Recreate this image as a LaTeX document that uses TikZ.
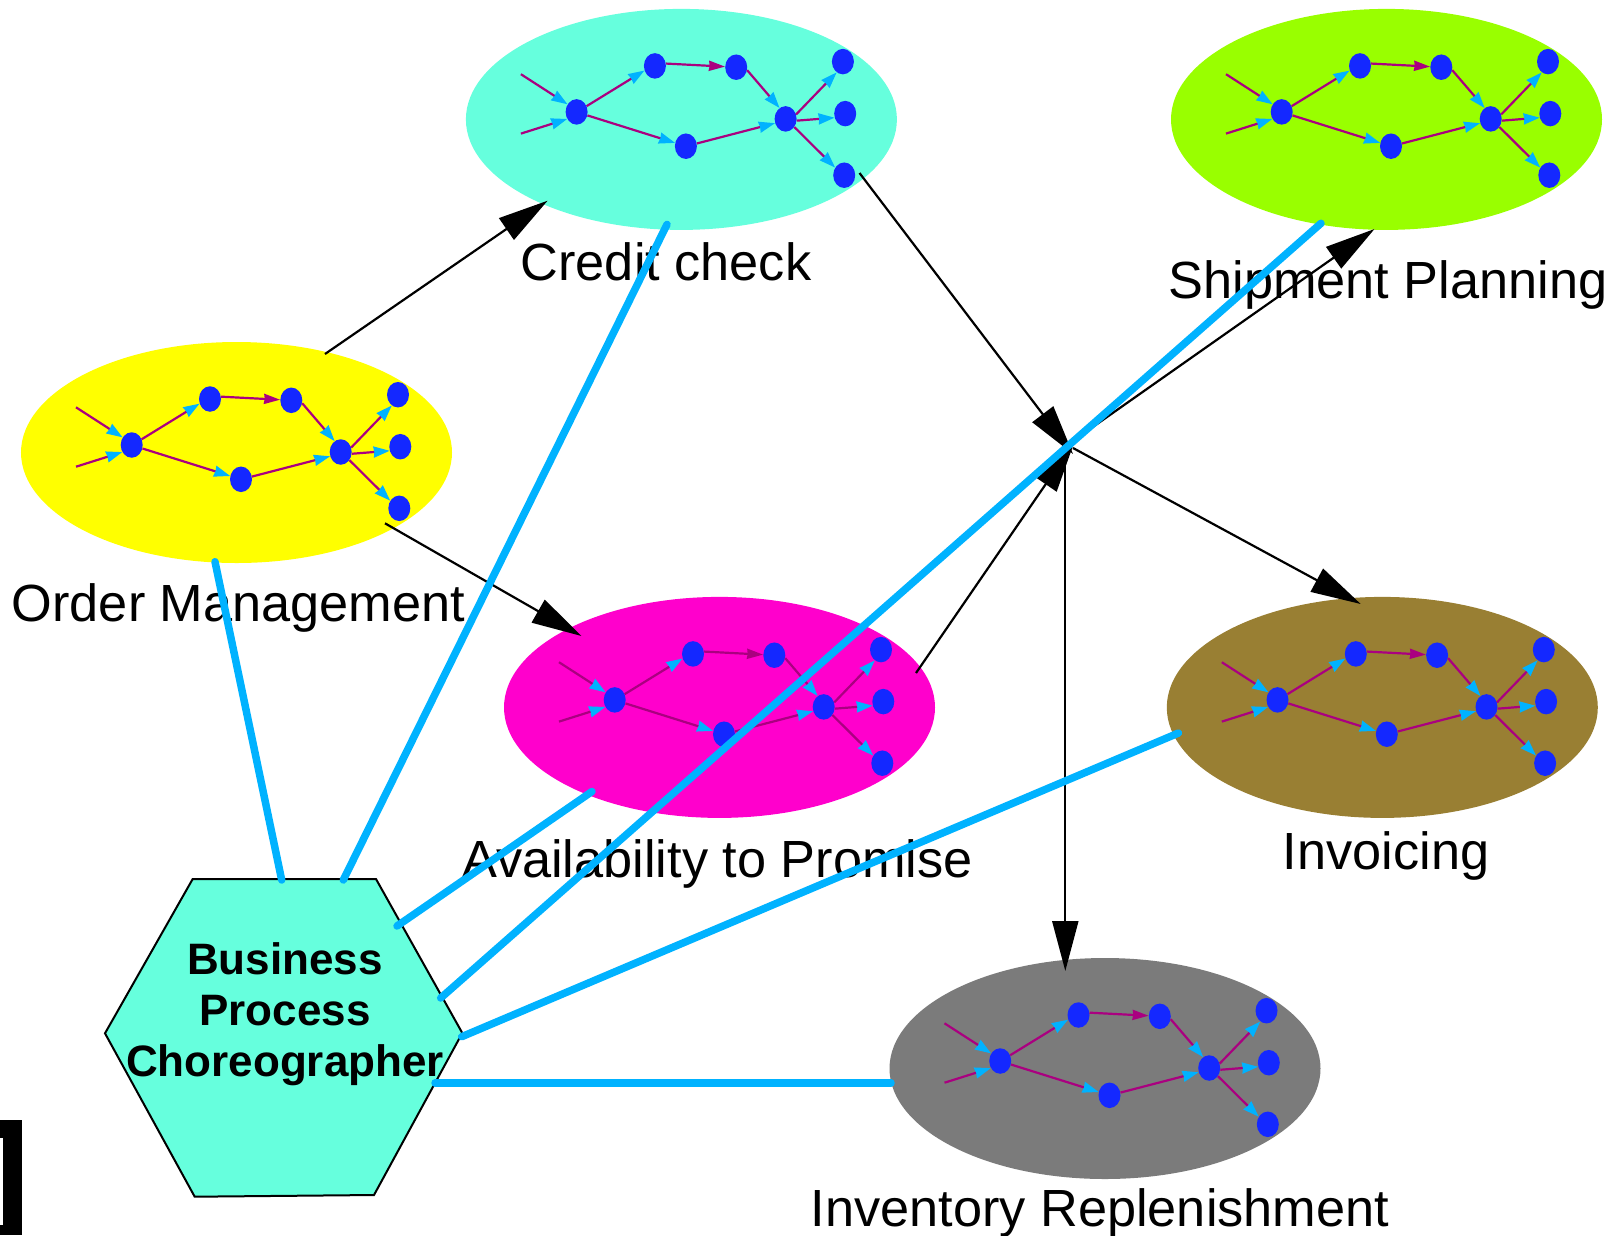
\documentclass[tikz,border=0pt]{standalone}
\usepackage{fontspec}
\setmainfont{Liberation Sans}
\usetikzlibrary{shapes.geometric,arrows.meta}
\definecolor{turq}{HTML}{66FFDD}
\definecolor{lime}{HTML}{99FF00}
\definecolor{sun}{HTML}{FFFF00}
\definecolor{magen}{HTML}{FF00CC}
\definecolor{brownish}{HTML}{997F33}
\definecolor{grayish}{HTML}{7B7B7B}
\definecolor{skyline}{HTML}{00B2FF}
\definecolor{dotblue}{HTML}{1428FF}
\definecolor{plum}{HTML}{AA0080}
\tikzset{
  x=1bp,y=-1bp,
  dot/.style={ellipse,fill=dotblue,draw=none,inner sep=0pt,minimum width=22bp,minimum height=25.5bp},
  blob/.style={ellipse,draw=none,inner sep=0pt,minimum width=431bp,minimum height=221bp,fill=#1},
  flow/.style={draw=plum,line width=2.2bp,-{Stealth[inset=0.6bp,length=16bp,width=11bp,color=skyline]}},
  flowp/.style={draw=plum,line width=2.2bp,-{Stealth[inset=0.6bp,length=16bp,width=10bp,color=plum]}},
  link/.style={draw=black,line width=2.2bp,-{Triangle[length=50bp,width=26bp]}},
  tie/.style={draw=skyline,line width=7.5bp,line cap=round},
  lab/.style={anchor=base,font=\fontsize{52.3bp}{52.3bp}\selectfont,inner sep=0pt},
  pics/frag/.style={code={
    \node[blob=#1] (-bg) at (0,0) {};
    \coordinate (-s1) at (-160.5,-45.2);
    \coordinate (-s2) at (-160.5,14.2);
    \node[dot] (-a) at (-104.8,-7.5) {};
    \node[dot] (-b) at (-26.5,-53.5) {};
    \node[dot] (-c) at (54.8,-52.2) {};
    \node[dot] (-d) at (4.5,26.8) {};
    \node[dot] (-e) at (104.2,-0.5) {};
    \node[dot] (-f) at (161.5,-57.8) {};
    \node[dot] (-g) at (163.8,-5.8) {};
    \node[dot] (-h) at (162.8,55.8) {};
    \draw[flow] (-s1) -- (-a.140);
    \draw[flow] (-s2) -- (-a.217);
    \draw[flow] (-a.30) -- (-b.204);
    \draw[flow] (-a.-18) -- (-d.163);
    \draw[flowp] (-b.12) -- (-c.177);
    \draw[flow] (-c.-15) -- (-e.119);
    \draw[flow] (-d.14) -- (-e.202);
    \draw[flow] (-e.23) -- (-f.240);
    \draw[flow] (-e.-9) -- (-g.201);
    \draw[flow] (-e.-43) -- (-h.140);
  }}
}
\begin{document}
\begin{tikzpicture}
\useasboundingbox (0,0) rectangle (1614,1235);
% stray bracket at the lower-left edge
\fill[black] (0,1120) rectangle (22,1235);
\fill[white] (0,1138) rectangle (2.5,1225);
% process ellipses
\pic (credit) at (681.4,119.4) {frag=turq};
\pic (ship) at (1386.5,119.4) {frag=lime};
\pic (order) at (236.5,452.5) {frag=sun};
\pic (avail) at (719.5,707.4) {frag=magen};
\pic (inv) at (1382.3,707.4) {frag=brownish};
\pic (stock) at (1105,1068.5) {frag=grayish};
% hexagon
\coordinate (h1) at (192.7,879);
\coordinate (h2) at (376,879);
\coordinate (h3) at (462.3,1033);
\coordinate (h4) at (374,1195);
\coordinate (h5) at (194.7,1196.7);
\coordinate (h6) at (105,1033.3);
\draw[fill=turq,draw=black,line width=2bp,line join=miter] (h1) -- (h2) -- (h3) -- (h4) -- (h5) -- (h6) -- cycle;
\node[align=center,inner sep=0pt,font=\fontsize{44bp}{51bp}\selectfont\bfseries] (bpc) at (285,1014) {Business\\Process\\Choreographer};
% labels
\node[lab] (lorder) at (238.5,621.7) {Order Management};
\node[lab] (lcredit) at (666,280.5) {Credit check};
\node[lab] (lship) at (1388,298) {Shipment Planning};
\node[lab] (lavail) at (717.5,877) {Availability to Promise};
\node[lab] (linv) at (1386,869) {Invoicing};
\node[lab] (lstock) at (1100,1226) {Inventory Replenishment};
% black connectors
\coordinate (jc) at (1073,454);
\coordinate (ja) at (1074,443);
\coordinate (js) at (1072,441.6);
\coordinate (ji) at (1073,448);
\coordinate (jv) at (1065.3,449);
\coordinate (oc0) at (325,354);
\coordinate (oc1) at (547.6,200.7);
\coordinate (oa0) at (385,523.3);
\coordinate (oa1) at (581.5,636);
\coordinate (cj0) at (859.5,173);
\coordinate (aj0) at (916,673);
\coordinate (js1) at (1374.5,229);
\coordinate (ji1) at (1360.7,604);
\coordinate (jt1) at (1065.3,971);
\draw[link] (oc0) -- (oc1);
\draw[link] (oa0) -- (oa1);
\draw[link] (cj0) -- (jc);
\draw[link] (aj0) -- (ja);
\draw[link] (js) -- (js1);
\draw[link] (ji) -- (ji1);
\draw[link] (jv) -- (jt1);
% choreography ties
\coordinate (t1a) at (215,561.7);  \coordinate (t1b) at (281.7,880);
\coordinate (t2a) at (667,224.4);  \coordinate (t2b) at (343.3,880);
\coordinate (t3a) at (592,791.5);  \coordinate (t3b) at (397,926);
\coordinate (t4a) at (1321,223.3); \coordinate (t4b) at (440.7,998);
\coordinate (t5a) at (1178.5,733); \coordinate (t5b) at (461.7,1036.7);
\coordinate (t6a) at (891,1083);   \coordinate (t6b) at (435,1083);
\draw[tie] (t1a) -- (t1b);
\draw[tie] (t2a) -- (t2b);
\draw[tie] (t3a) -- (t3b);
\draw[tie] (t4a) -- (t4b);
\draw[tie] (t5a) -- (t5b);
\draw[tie] (t6a) -- (t6b);
\end{tikzpicture}
\end{document}
